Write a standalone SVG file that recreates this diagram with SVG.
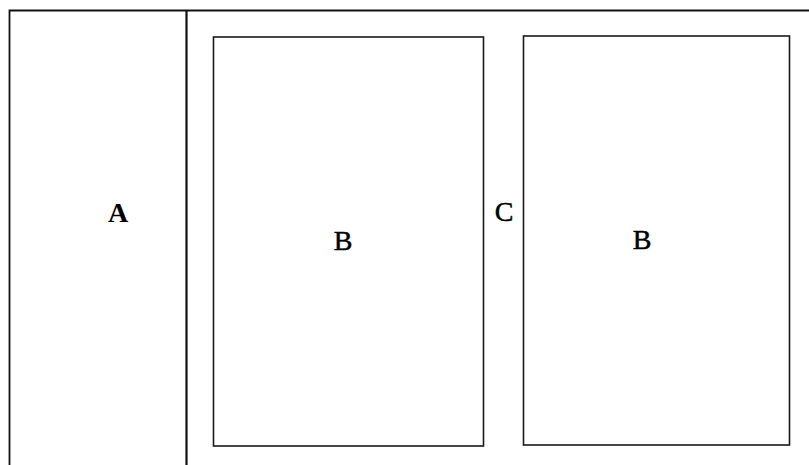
<svg xmlns="http://www.w3.org/2000/svg" width="809" height="465" viewBox="0 0 809 465">
<style>
.ln{stroke:#111;stroke-width:1.8;fill:none}
.bx{stroke:#1a1a1a;stroke-width:1.6;fill:none}
.lb{font-family:"Liberation Serif","DejaVu Serif",serif;font-size:28px;fill:#000;stroke:#000;stroke-width:0.5;text-anchor:middle}
</style>
<rect width="809" height="465" fill="#fff"/>
<g id="frame">
<path class="ln" d="M9.5 465 V10.5 H809"/>
<path class="ln" d="M186.5 10.5 V465" style="stroke-width:2.2"/>
</g>
<g id="A"><text class="lb" x="118" y="222" font-weight="bold" style="stroke-width:0">A</text></g>
<g id="B1"><rect class="bx" x="213.5" y="37" width="270" height="409"/><text class="lb" x="343" y="250">B</text></g>
<g id="C"><text class="lb" x="504" y="221">C</text></g>
<g id="B2"><rect class="bx" x="523.5" y="36" width="266" height="409"/><text class="lb" x="642" y="249">B</text></g>
<g id="connectors"></g>
</svg>
